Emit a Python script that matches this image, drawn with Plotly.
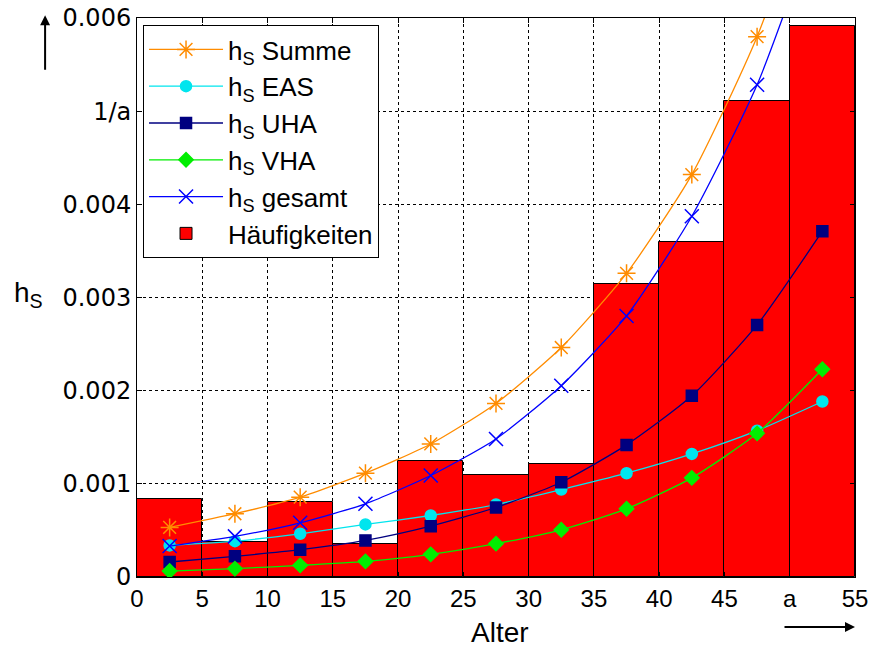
import plotly.graph_objects as go

# ---- data ----
bin_centers = [2.5, 7.5, 12.5, 17.5, 22.5, 27.5, 32.5, 37.5, 42.5, 47.5, 52.5]
haeufigkeiten = [0.000832, 0.000379, 0.000810, 0.000357, 0.001246, 0.001096,
                 0.001214, 0.003144, 0.003594, 0.005107, 0.005918]
hs_summe = [0.000532, 0.000679, 0.000857, 0.001114, 0.001428, 0.001863,
            0.002463, 0.003259, 0.004319, 0.005800, 0.007770]
hs_eas = [0.000339, 0.000385, 0.000464, 0.000564, 0.000660, 0.000778,
          0.000939, 0.001114, 0.001321, 0.001571, 0.001884]
hs_uha = [0.000161, 0.000222, 0.000293, 0.000393, 0.000546, 0.000746,
          0.001017, 0.001418, 0.001945, 0.002706, 0.003712]
hs_vha = [0.000064, 0.000090, 0.000125, 0.000168, 0.000243, 0.000358,
          0.000507, 0.000732, 0.001064, 0.001542, 0.002230]
hs_gesamt = [0.000332, 0.000436, 0.000582, 0.000786, 0.001089, 0.001482,
             0.002053, 0.002802, 0.003872, 0.005283, 0.007200]

x_tickvals = [0, 5, 10, 15, 20, 25, 30, 35, 40, 45, 50, 55]
x_ticktext = ["0", "5", "10", "15", "20", "25", "30", "35", "40", "45", "a", "55"]
y_tickvals = [0, 0.001, 0.002, 0.003, 0.004, 0.005, 0.006]
y_ticktext = ["0", "0.001", "0.002", "0.003", "0.004", "1/a", "0.006"]

FONT = "Liberation Sans, Arial, sans-serif"
FONT_WIDE = "DejaVu Sans, Liberation Sans, sans-serif"

fig = go.Figure()

fig.add_trace(go.Bar(
    x=bin_centers, y=haeufigkeiten, width=5,
    marker=dict(color="#ff0000", line=dict(color="black", width=1)),
    name="Häufigkeiten", legendrank=6,
))

series = [
    ("h<sub>S</sub> Summe", hs_summe, "#ff8c00", "asterisk-open", 15, 1),
    ("h<sub>S</sub> EAS", hs_eas, "#00e5ee", "circle", 11, 2),
    ("h<sub>S</sub> UHA", hs_uha, "#000080", "square", 11, 3),
    ("h<sub>S</sub> VHA", hs_vha, "#00ee00", "diamond", 11, 4),
    ("h<sub>S</sub> gesamt", hs_gesamt, "#0000ff", "x-thin-open", 14, 5),
]
for name, vals, col, sym, size, rank in series:
    fig.add_trace(go.Scatter(
        x=bin_centers, y=vals, mode="lines+markers", name=name,
        line=dict(color=col, width=1.3, shape="spline", smoothing=0.6),
        marker=dict(symbol=sym, size=size, color=col,
                    line=dict(color=col, width=1.5)),
        legendrank=rank, cliponaxis=True,
    ))

axis_common = dict(
    showline=True, linecolor="black", linewidth=1, mirror="ticks",
    ticks="inside", ticklen=5, tickcolor="black",
    showgrid=True, gridcolor="black", griddash="dot", gridwidth=1,
    zeroline=False, automargin=False, ticklabeloverflow="allow",
)

fig.update_xaxes(range=[0, 55], tickmode="array", tickvals=x_tickvals,
                 ticktext=x_ticktext,
                 tickfont=dict(family=FONT, size=24, color="black"),
                 **axis_common)
fig.update_yaxes(range=[0, 0.006], tickmode="array", tickvals=y_tickvals,
                 ticktext=y_ticktext,
                 tickfont=dict(family=FONT_WIDE, size=24, color="black"),
                 **axis_common)

fig.update_layout(
    width=872, height=650,
    margin=dict(l=137, r=17, t=18, b=73, autoexpand=False),
    plot_bgcolor="white", paper_bgcolor="white",
    font=dict(family=FONT, size=24, color="black"),
    bargap=0, showlegend=True,
    legend=dict(
        x=0.0084, y=0.9875, xanchor="left", yanchor="top",
        bgcolor="white", bordercolor="black", borderwidth=1,
        font=dict(family=FONT, size=26, color="black"),
        tracegroupgap=0, itemwidth=74,
    ),
    annotations=[
        dict(text="h<sub>S</sub>", xref="paper", yref="paper",
             x=-0.1518, y=0.505, xanchor="center", yanchor="middle",
             showarrow=False, font=dict(family=FONT, size=28)),
        dict(text="Alter", xref="paper", yref="paper",
             x=0.5056, y=-0.1, xanchor="center", yanchor="middle",
             showarrow=False, font=dict(family=FONT, size=28)),
        dict(text="", xref="paper", yref="paper",
             x=-0.128, y=1.005, ax=0, ay=56, showarrow=True,
             arrowhead=2, arrowsize=1, arrowwidth=2, arrowcolor="black"),
        dict(text="", xref="paper", yref="paper",
             x=1.0, y=-0.0894, ax=-72, ay=0, showarrow=True,
             arrowhead=2, arrowsize=1, arrowwidth=2, arrowcolor="black"),
    ],
)

fig.write_html(
    "out.html",
    config={"displayModeBar": False},
    post_script="document.body.style.margin='0';"
                "document.documentElement.style.overflow='hidden';",
)
